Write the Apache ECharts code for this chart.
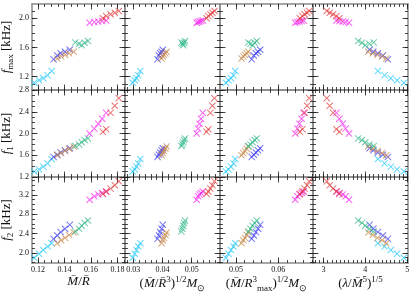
<!DOCTYPE html>
<html><head><meta charset="utf-8">
<script src="https://cdn.jsdelivr.net/npm/echarts@6/dist/echarts.min.js"></script>
<style>html,body{margin:0;padding:0;background:#fff}#c{width:415px;height:294px}</style>
</head><body><div id="c"></div>
<script>
// ---- groups & colours ----
const groups = ['cyan', 'blue', 'tan', 'green', 'magenta', 'red'];
const groupColors = ['#22c8f8', '#3a3af0', '#c8894a', '#35b889', '#f522f0', '#e03a3a'];

// ---- x quantities (per group, 5 stars each) ----
const mr = { // M/R
  cyan: [0.1172, 0.1208, 0.1240, 0.1273, 0.1303],
  blue: [0.1318, 0.1346, 0.1371, 0.1404, 0.1440],
  tan: [0.1345, 0.1375, 0.1405, 0.1435, 0.1470],
  green: [0.1482, 0.1510, 0.1530, 0.1552, 0.1577],
  magenta: [0.1590, 0.1625, 0.1655, 0.1685, 0.1715],
  red: [0.1690, 0.1715, 0.1748, 0.1780, 0.1810]
};
const rho = { // (M/R^3)^(1/2) Msun
  cyan: [0.0298, 0.0305, 0.0311, 0.0317, 0.0324],
  blue: [0.0383, 0.0388, 0.0392, 0.0397, 0.0401],
  tan: [0.0397, 0.0401, 0.0405, 0.0410, 0.0414],
  green: [0.0465, 0.0468, 0.0471, 0.0474, 0.0477],
  magenta: [0.0517, 0.0522, 0.0527, 0.0532, 0.0538],
  red: [0.0551, 0.0557, 0.0564, 0.0571, 0.0578]
};
const rhoMax = { // (M/Rmax^3)^(1/2) Msun
  cyan: [0.0476, 0.0482, 0.0488, 0.0494, 0.0498],
  blue: [0.0537, 0.0542, 0.0547, 0.0552, 0.0557],
  tan: [0.0513, 0.0517, 0.0521, 0.0525, 0.0529],
  green: [0.0529, 0.0534, 0.0539, 0.0544, 0.0549],
  magenta: [0.0640, 0.0645, 0.0650, 0.0655, 0.0660],
  red: [0.0651, 0.0657, 0.0662, 0.0668, 0.0673]
};
const lam = { // (lambda/M^5)^(1/5)
  cyan: [4.92, 4.76, 4.61, 4.46, 4.30],
  blue: [4.54, 4.42, 4.30, 4.19, 4.10],
  tan: [4.50, 4.40, 4.29, 4.18, 4.07],
  green: [4.20, 4.10, 4.00, 3.92, 3.83],
  magenta: [3.61, 3.53, 3.46, 3.38, 3.31],
  red: [3.38, 3.31, 3.23, 3.15, 3.08]
};
// ---- frequencies [kHz] ----
const fmax = {
  cyan: [1.118, 1.151, 1.178, 1.219, 1.278],
  blue: [1.438, 1.490, 1.521, 1.542, 1.570],
  tan: [1.450, 1.478, 1.500, 1.520, 1.542],
  green: [1.670, 1.650, 1.630, 1.665, 1.690],
  magenta: [1.940, 1.948, 1.955, 1.962, 1.970],
  red: [2.000, 2.030, 2.055, 2.077, 2.100]
};
const f1 = {
  cyan: [1.30, 1.34, 1.39, 1.45, 1.53],
  blue: [1.57, 1.61, 1.65, 1.69, 1.73],
  tan: [1.60, 1.64, 1.68, 1.72, 1.76],
  green: [1.77, 1.80, 1.84, 1.88, 1.91],
  magenta: [2.00, 2.09, 2.18, 2.27, 2.38],
  red: [2.03, 2.08, 2.38, 2.51, 2.65]
};
const f2 = {
  cyan: [1.90, 1.98, 2.06, 2.13, 2.20],
  blue: [2.29, 2.36, 2.43, 2.50, 2.58],
  tan: [2.20, 2.26, 2.31, 2.37, 2.42],
  green: [2.44, 2.50, 2.56, 2.62, 2.67],
  magenta: [3.10, 3.17, 3.21, 3.24, 3.27],
  red: [3.22, 3.27, 3.33, 3.40, 3.48]
};

// ---- axes: tick labels, minor steps, ranges ----
const xTickLabels = [['0.12', '0.14', '0.16', '0.18'], ['0.03', '0.04', '0.05'], ['0.05', '0.06'], ['3', '4', '5']];
const xMinorSteps = [0.005, 0.002, 0.002, 0.1];
const xRanges = [[0.1155, 0.1857], [0.02716, 0.0597], [0.0462, 0.0682], [2.75, 5.02]];
const yTickLabels = [['1.2', '1.6', '2.0'], ['1.2', '1.6', '2.0', '2.4', '2.8'], ['2.0', '2.4', '2.8', '3.2']];
const yMinorSteps = [0.1, 0.1, 0.1];
const yRanges = [[1.018, 2.196], [1.2, 2.8], [1.79, 3.57]];

const xNames = [
  '{i|M\u0304}{r|/}{i|R\u0304}',
  '{r|(}{i|M\u0304}{r|/}{i|R\u0304}{sup|3}{r|)}{sup|1/2}{i|M}{sub|\u2299}',
  '{r|(}{i|M\u0304}{r|/}{i|R}{sup|3}{sub|max}{r|)}{sup|1/2}{i|M}{sub|\u2299}',
  '{r|(}{i|\u03bb}{r|/}{i|M\u0304}{sup|5}{r|)}{sup|1/5}'
];
const yNames = ['{i|f}{sub|max}{r| [kHz]}', '{i|f}{sub|1}{r| [kHz]}', '{i|f}{sub|2}{r| [kHz]}'];

const colEdges = [32, 125, 220, 313, 408];
const rowEdges = [4, 90, 177, 263];

const SERIF = 'Liberation Serif';
const rich = {
  i: {fontFamily: SERIF, fontStyle: 'italic', fontSize: 13, lineHeight: 18, color: '#111'},
  r: {fontFamily: SERIF, fontSize: 13, lineHeight: 18, color: '#111'},
  sup: {fontFamily: SERIF, fontSize: 9, lineHeight: 10, verticalAlign: 'top', color: '#111'},
  sub: {fontFamily: SERIF, fontSize: 9, lineHeight: 10, verticalAlign: 'bottom', color: '#111'}
};

function minors(min, max, step) {
  const out = [];
  for (let k = Math.ceil(min / step - 1e-9); k * step <= max + 1e-9; k++) out.push(+(k * step).toFixed(6));
  return out;
}

function axisDef(g, range, pos, vals, len, showLine, labels, name, nameGap) {
  const o = {
    type: 'value', gridIndex: g, position: pos, min: range[0], max: range[1],
    axisLine: {show: showLine, onZero: false, lineStyle: {color: '#8a8a8a', width: 1.5}},
    axisTick: {show: true, inside: true, length: len, customValues: vals, lineStyle: {color: '#1a1a1a', width: 0.8}},
    axisLabel: {show: false},
    splitLine: {show: false}, minorTick: {show: false}, minorSplitLine: {show: false},
    axisPointer: {show: false}
  };
  if (labels) {
    o.axisLabel = {
      show: true, customValues: labels.map(Number), showMinLabel: true, showMaxLabel: true,
      fontFamily: SERIF, fontSize: 8, color: '#111', margin: 3,
      formatter: v => { const s = labels.find(t => Math.abs(Number(t) - v) < 1e-9); return s === undefined ? '' : s; }
    };
  }
  if (name) {
    o.name = name; o.nameLocation = 'middle'; o.nameGap = nameGap;
    o.nameTextStyle = {rich: rich, fontFamily: SERIF, fontSize: 13};
  }
  return o;
}

const grids = [], xAxes = [], yAxes = [], series = [];
const xData = [mr, rho, rhoMax, lam];
const yData = [fmax, f1, f2];
const XSYM = 'path://M0,1L1,0L5,4L9,0L10,1L6,5L10,9L9,10L5,6L1,10L0,9L4,5Z';

for (let r = 0; r < 3; r++) {
  for (let c = 0; c < 4; c++) {
    const g = r * 4 + c;
    grids.push({left: colEdges[c], top: rowEdges[r], width: colEdges[c + 1] - colEdges[c],
      height: rowEdges[r + 1] - rowEdges[r], containLabel: false, outerBoundsMode: 'none'});
    const xr = xRanges[c], yr = yRanges[r];
    const xMaj = xTickLabels[c].map(Number), xMin = minors(xr[0], xr[1], xMinorSteps[c]);
    const yMaj = yTickLabels[r].map(Number), yMin = minors(yr[0], yr[1], yMinorSteps[r]);
    const lastRow = r === 2, firstCol = c === 0;
    xAxes.push(axisDef(g, xr, 'bottom', xMaj, 5.5, true, lastRow ? xTickLabels[c] : null, lastRow ? xNames[c] : null, 10));
    xAxes.push(axisDef(g, xr, 'bottom', xMin, 3, false, null, null));
    xAxes.push(axisDef(g, xr, 'top', xMaj, 5.5, true, null, null));
    xAxes.push(axisDef(g, xr, 'top', xMin, 3, false, null, null));
    yAxes.push(axisDef(g, yr, 'left', yMaj, 5.5, true, firstCol ? yTickLabels[r] : null, firstCol ? yNames[r] : null, 15));
    yAxes.push(axisDef(g, yr, 'left', yMin, 3, false, null, null));
    yAxes.push(axisDef(g, yr, 'right', yMaj, 5.5, true, null, null));
    yAxes.push(axisDef(g, yr, 'right', yMin, 3, false, null, null));
    groups.forEach((gr, k) => {
      series.push({
        type: 'scatter', xAxisIndex: 4 * g, yAxisIndex: 4 * g,
        data: xData[c][gr].map((x, i) => [x, yData[r][gr][i]]),
        symbol: XSYM, symbolSize: 7,
        itemStyle: {color: groupColors[k], opacity: 0.72},
        silent: true, animation: false
      });
    });
  }
}

const chart = echarts.init(document.getElementById('c'), null, {renderer: 'canvas'});
chart.setOption({
  animation: false,
  backgroundColor: '#fff',
  grid: grids, xAxis: xAxes, yAxis: yAxes, series: series
});
</script></body></html>
